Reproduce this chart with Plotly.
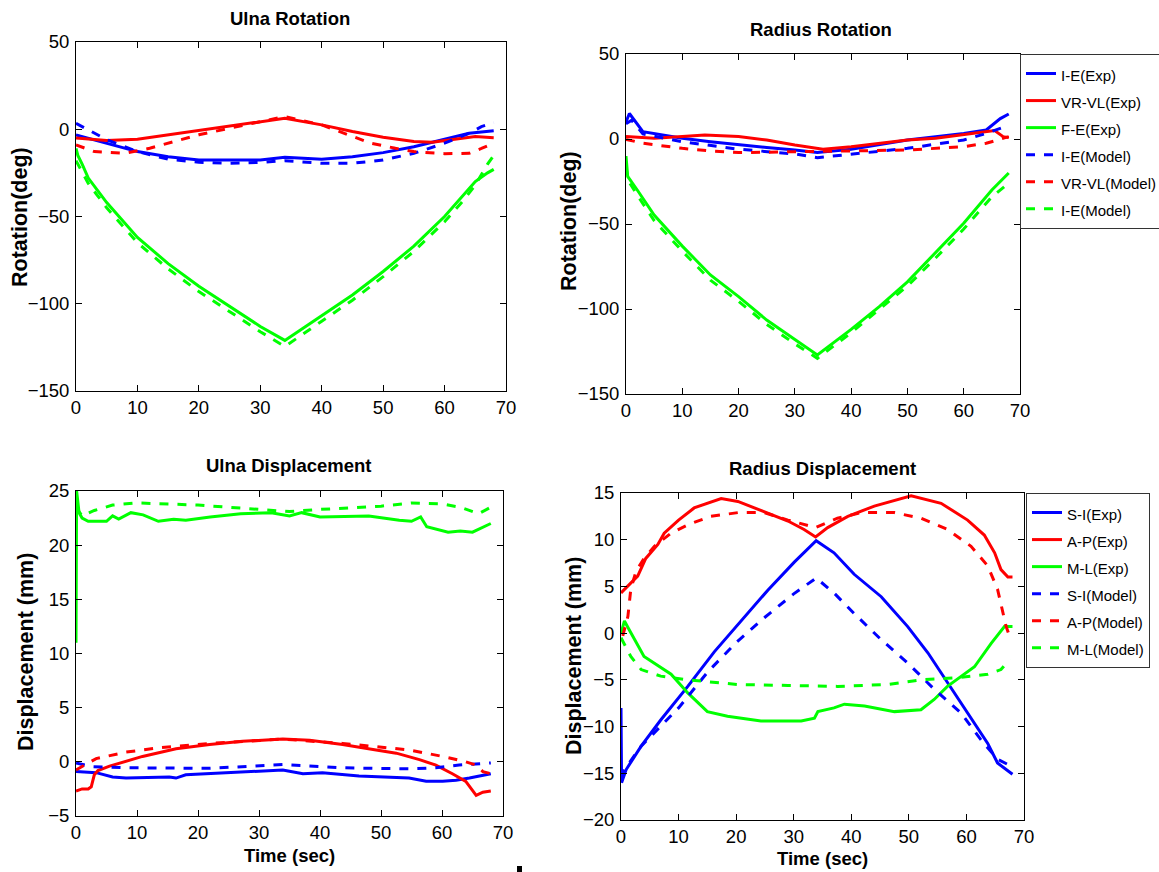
import plotly.graph_objects as go

W, H = 1159, 872

BLUE, RED, GREEN = "#0000ff", "#ff0000", "#00ff00"
FONT = "Liberation Sans, Arial, sans-serif"

# ---------------- Ulna Rotation (deg) ----------------
ur_ie_exp_t = [0, 5, 10, 15, 20, 30, 34, 40, 45, 50, 55, 60, 64, 68]
ur_ie_exp_y = [-3.2, -8, -12.8, -15.7, -17.6, -17.6, -16, -17.2, -15.7, -13.4, -10, -5.7, -2.3, -0.8]
ur_vr_exp_t = [0, 5, 10, 15, 20, 25, 30, 34, 40, 45, 50, 55, 58, 62, 65, 68]
ur_vr_exp_y = [-5, -6.5, -5.7, -3.2, -0.8, 1.9, 4.4, 6.3, 2.5, -1.3, -4.6, -7, -7.4, -5.7, -4.2, -4.8]
ur_fe_exp_t = [0, 0.3, 1, 2, 3.5, 5, 7, 10, 13, 15, 20, 25, 30, 34, 37, 40, 45, 50, 55, 60, 63, 65, 67, 68]
ur_fe_exp_y = [-11, -15, -20, -28, -35, -42, -50, -62, -71, -77, -90, -101.5, -113, -121, -114, -107, -95, -81.5, -67, -50, -38, -30, -25, -23]
ur_ie_mod_t = [0, 2, 5, 10, 15, 20, 25, 30, 34, 40, 45, 50, 55, 60, 64, 66, 68]
ur_ie_mod_y = [3.4, -0.4, -6, -12.8, -17.2, -18.9, -19.5, -19, -18, -19.5, -19.5, -17.6, -13.8, -8, -2.3, 1.5, 3.8]
ur_vr_mod_t = [0, 3, 8, 12, 16, 20, 25, 30, 34, 40, 45, 48, 52, 55, 60, 64, 66, 68]
ur_vr_mod_y = [-9, -12.8, -13.8, -10.9, -7, -3.2, 0.6, 4.4, 7.3, 2.5, -4.2, -8, -10.9, -12.8, -14, -13.8, -11, -8]
ur_fe_mod_t = [0, 0.3, 1, 2, 3.5, 5, 7, 10, 13, 15, 20, 25, 30, 34, 37, 40, 45, 50, 55, 60, 63, 65, 67, 68]
ur_fe_mod_y = [-18, -20, -24, -31, -38, -45, -53, -65, -74, -80, -93, -104.5, -116, -124.5, -117, -110, -98, -84.5, -70, -53, -41, -32, -20, -15]

# ---------------- Radius Rotation (deg) ----------------
rr_ie_exp_t = [0, 0.6, 3, 5, 10, 15, 20, 25, 30, 34, 40, 45, 50, 55, 60, 64, 65, 66.5, 68]
rr_ie_exp_y = [10, 15, 4.3, 3.3, 0.4, -1.6, -3.5, -5, -6.5, -8, -6, -3.5, -0.6, 1.4, 3.3, 5.3, 8, 12, 14.7]
rr_vr_exp_t = [0, 5, 10, 14, 20, 25, 30, 35, 40, 45, 50, 55, 60, 64, 65.5, 67, 68]
rr_vr_exp_y = [1.4, 0.4, 1.4, 2.4, 1.4, -0.6, -3.5, -6, -4.5, -2.5, -0.6, 0.4, 2.4, 4.3, 5, 1.4, 0.8]
rr_fe_exp_t = [0, 0.3, 2, 5, 10, 15, 20, 25, 30, 34, 40, 45, 50, 55, 60, 65, 68]
rr_fe_exp_y = [-10, -22, -30, -44.7, -63, -80, -92.7, -106.5, -118, -127, -112, -98.6, -84, -67, -49.6, -30, -20]
rr_ie_mod_t = [0, 1, 3, 10, 20, 30, 34, 40, 50, 60, 64, 68]
rr_ie_mod_y = [9, 11, 3, -1.6, -6, -8.8, -11, -8.8, -5.5, -0.6, 3.3, 8]
rr_vr_mod_t = [0, 3, 10, 15, 20, 30, 40, 50, 60, 64, 66, 68]
rr_vr_mod_y = [-0.2, -2.5, -5.5, -7, -8, -7.5, -7, -6.5, -4.5, -2.5, -0.6, 1.4]
rr_fe_mod_t = [0, 0.3, 2, 5, 10, 15, 20, 25, 30, 34, 40, 45, 50, 55, 60, 65, 68]
rr_fe_mod_y = [-16, -24, -33, -48, -66, -83, -95.5, -109, -120.5, -129, -114, -100.5, -86.5, -70, -53, -34, -26]

# ---------------- Ulna Displacement (mm) ----------------
ud_fe_exp_t = [0, 0.1, 0.5, 1, 2, 5, 6, 7, 9, 11, 13.5, 16, 18, 22, 27, 32, 35, 37, 40, 48, 53, 55, 56.5, 57.5, 61, 63, 65, 67, 68]
ud_fe_exp_y = [11, 25, 23, 22.5, 22.2, 22.2, 22.7, 22.4, 23, 22.8, 22.2, 22.4, 22.3, 22.6, 22.9, 23, 22.7, 23, 22.6, 22.7, 22.3, 22.2, 22.6, 21.7, 21.2, 21.3, 21.2, 21.7, 22]
ud_fe_mod_t = [0, 1, 3, 6, 10, 20, 30, 35, 40, 50, 55, 60, 63, 66, 68]
ud_fe_mod_y = [23.5, 22.7, 23.2, 23.7, 23.9, 23.7, 23.3, 23.1, 23.3, 23.6, 23.9, 23.8, 23.5, 22.9, 23.5]
ud_si_exp_t = [0, 3.3, 6, 8.2, 15.3, 16.4, 18, 24.6, 33.9, 37.2, 40.4, 46.4, 54.6, 57.4, 60.1, 62.3, 64.5, 68]
ud_si_exp_y = [-0.9, -1, -1.4, -1.5, -1.4, -1.5, -1.2, -1.0, -0.75, -1.1, -1, -1.3, -1.5, -1.8, -1.8, -1.7, -1.5, -1.1]
ud_si_mod_t = [0, 2.7, 8.2, 21.9, 33.9, 43.7, 54.6, 59, 62.8, 68]
ud_si_mod_y = [-0.1, -0.45, -0.55, -0.6, -0.25, -0.55, -0.65, -0.55, -0.3, -0.1]
ud_ap_exp_t = [0, 1, 2, 2.5, 3, 3.6, 5.5, 10.9, 16.4, 21.9, 27.3, 33.9, 38.3, 43.7, 49.2, 52.5, 56.3, 59, 61.7, 63.9, 65.6, 66.7, 68]
ud_ap_exp_y = [-2.7, -2.5, -2.5, -2.3, -1.2, -0.8, -0.4, 0.5, 1.2, 1.6, 1.9, 2.1, 2.0, 1.6, 1.1, 0.8, 0.2, -0.3, -1.1, -1.8, -3.1, -2.8, -2.7]
ud_ap_mod_t = [0, 3.3, 8.2, 13.7, 21.9, 33.9, 43.7, 49.2, 54.6, 60.1, 63.9, 65.6, 66.7, 68]
ud_ap_mod_y = [-0.75, 0.3, 0.9, 1.3, 1.7, 2.1, 1.7, 1.4, 1.1, 0.5, 0, -0.3, -0.9, -1.1]

# ---------------- Radius Displacement (mm) ----------------
rd_si_exp_t = [0, 0.1, 0.9, 3.5, 6.9, 11.6, 16.2, 20.8, 25.5, 30.1, 33.9, 37, 40.5, 45.2, 49.8, 53.3, 56.7, 60.2, 63.7, 65.4, 68]
rd_si_exp_y = [-8, -16, -14.6, -12.1, -9.3, -5.7, -2, 1.3, 4.6, 7.6, 9.9, 8.6, 6.3, 3.9, 0.7, -2.1, -5.3, -8.5, -11.8, -13.9, -15.1]
rd_ap_exp_t = [0, 1.7, 2.9, 4.3, 6.4, 7.5, 10, 12.7, 17.4, 20.3, 24.9, 29, 31.8, 33.8, 35.9, 39.4, 44, 50.4, 55.6, 60.2, 63.1, 64.9, 66, 67.2, 68]
rd_ap_exp_y = [4.3, 5.4, 6.1, 8, 9.5, 10.7, 12.1, 13.4, 14.4, 14.1, 13, 12, 11.1, 10.3, 11.3, 12.5, 13.6, 14.7, 13.9, 12.1, 10.5, 8.6, 6.8, 6, 6]
rd_ml_exp_t = [0, 0.6, 1.4, 4, 8.7, 11.6, 15, 18.5, 24.3, 31.3, 33.6, 34.2, 37, 38.8, 42.3, 47.5, 52.1, 54.4, 56.7, 61.4, 64.3, 66.6, 68]
rd_ml_exp_y = [0, 1.3, 0.4, -2.5, -4.4, -6.4, -8.4, -8.9, -9.4, -9.4, -9.1, -8.4, -8, -7.6, -7.8, -8.4, -8.2, -7.1, -5.7, -3.6, -1.1, 0.7, 0.7]
rd_si_mod_t = [0, 0.6, 3.5, 10, 15, 20, 25, 30, 33.9, 37, 40.5, 45.2, 49.8, 54.4, 59, 62.5, 65.4, 68]
rd_si_mod_y = [-15.5, -14.6, -12.1, -8, -4.2, -1, 1.7, 4.2, 5.9, 4.3, 2.1, -0.7, -3.2, -6, -8.5, -11.4, -13.5, -14.3]
rd_ap_mod_t = [0.3, 1.2, 1.7, 2.6, 4, 5.8, 8.7, 11.6, 15.6, 20.3, 24.9, 29, 33.8, 37.6, 41.7, 47.5, 52.1, 56.7, 60.8, 63.7, 65.4, 66.3, 66.9, 67.3]
rd_ap_mod_y = [-0.3, 1.8, 4.7, 6.6, 8, 9.3, 10.7, 11.6, 12.5, 12.9, 12.9, 12.1, 11.3, 12.3, 12.9, 12.9, 12.3, 11.1, 9.3, 7.2, 4.7, 2.2, 0.7, 0]
rd_ml_mod_t = [0, 1.7, 3.5, 6.9, 11.6, 20.3, 29, 37.6, 46.3, 52.1, 57.9, 63.7, 66, 67.5]
rd_ml_mod_y = [-0.5, -2.5, -3.9, -4.6, -5, -5.5, -5.6, -5.7, -5.5, -5, -4.8, -4.4, -3.9, -2.8]

rot_names = ["I-E(Exp)", "VR-VL(Exp)", "F-E(Exp)", "I-E(Model)", "VR-VL(Model)", "I-E(Model)"]
disp_names = ["S-I(Exp)", "A-P(Exp)", "M-L(Exp)", "S-I(Model)", "A-P(Model)", "M-L(Model)"]


def px_x(p):
    return p / W


def px_y(p):
    return 1 - p / H


fig = go.Figure()


def add_panel(series, names, xa, ya, legend=None):
    colors = [BLUE, RED, GREEN, BLUE, RED, GREEN]
    for i, ((t, y), name) in enumerate(zip(series, names)):
        fig.add_trace(go.Scatter(
            x=t, y=y, mode="lines",
            # legend rows keep the taller spacing of the legend font, text drawn smaller
            name="<span style='font-size:15px'>%s</span>" % name,
            line=dict(color=colors[i], width=3, dash="solid" if i < 3 else "dash"),
            xaxis=xa, yaxis=ya,
            showlegend=legend is not None,
            legend=legend if legend else "legend",
        ))


add_panel([(ur_ie_exp_t, ur_ie_exp_y), (ur_vr_exp_t, ur_vr_exp_y), (ur_fe_exp_t, ur_fe_exp_y),
           (ur_ie_mod_t, ur_ie_mod_y), (ur_vr_mod_t, ur_vr_mod_y), (ur_fe_mod_t, ur_fe_mod_y)],
          rot_names, "x", "y")
add_panel([(rr_ie_exp_t, rr_ie_exp_y), (rr_vr_exp_t, rr_vr_exp_y), (rr_fe_exp_t, rr_fe_exp_y),
           (rr_ie_mod_t, rr_ie_mod_y), (rr_vr_mod_t, rr_vr_mod_y), (rr_fe_mod_t, rr_fe_mod_y)],
          rot_names, "x2", "y2", legend="legend")
add_panel([(ud_si_exp_t, ud_si_exp_y), (ud_ap_exp_t, ud_ap_exp_y), (ud_fe_exp_t, ud_fe_exp_y),
           (ud_si_mod_t, ud_si_mod_y), (ud_ap_mod_t, ud_ap_mod_y), (ud_fe_mod_t, ud_fe_mod_y)],
          disp_names, "x3", "y3")
add_panel([(rd_si_exp_t, rd_si_exp_y), (rd_ap_exp_t, rd_ap_exp_y), (rd_ml_exp_t, rd_ml_exp_y),
           (rd_si_mod_t, rd_si_mod_y), (rd_ap_mod_t, rd_ap_mod_y), (rd_ml_mod_t, rd_ml_mod_y)],
          disp_names, "x4", "y4", legend="legend2")

# panel boxes in pixels: (left, right, top, bottom)
boxes = {
    "1": (76, 506, 42, 391),
    "2": (626, 1020, 54, 394),
    "3": (76, 503, 491, 816),
    "4": (621, 1024, 493, 820),
}
yranges = {"1": [-150, 50], "2": [-150, 50], "3": [-5, 25], "4": [-20, 15]}
ydticks = {"1": 50, "2": 50, "3": 5, "4": 5}

tickfont = dict(family=FONT, size=18.5, color="#000")
axis_common = dict(showline=True, linecolor="#000", linewidth=1, mirror="allticks",
                   ticks="inside", ticklen=6, tickcolor="#000", showgrid=False,
                   zeroline=False, tickfont=tickfont)

layout_axes = {}
for k, (l, r, t, b) in boxes.items():
    sfx = "" if k == "1" else k
    layout_axes["xaxis" + sfx] = dict(
        domain=[px_x(l), px_x(r)], range=[0, 70], dtick=10, tick0=0,
        anchor="y" + sfx, **axis_common)
    layout_axes["yaxis" + sfx] = dict(
        domain=[px_y(b), px_y(t)], range=yranges[k], dtick=ydticks[k], tick0=0,
        anchor="x" + sfx, ticklabelstandoff=2, **axis_common)

fig.update_layout(**layout_axes)

legend_common = dict(bgcolor="#fff", bordercolor="#333", borderwidth=1,
                     font=dict(family=FONT, size=18.5, color="#000"),
                     xanchor="left", yanchor="top", itemwidth=30,
                     tracegroupgap=0)
fig.update_layout(
    legend=dict(x=px_x(1020), y=px_y(54), **legend_common),
    legend2=dict(x=px_x(1026), y=px_y(493), **legend_common),
)

titlefont = dict(family=FONT, size=18.5, color="#000", weight="bold")
vfont = dict(family=FONT, size=21.5, color="#000", weight="bold")
annos = [
    ("Ulna Rotation", 290, 18, 0, titlefont),
    ("Radius Rotation", 821, 30, 0, titlefont),
    ("Ulna Displacement", 289, 466, 0, titlefont),
    ("Radius Displacement", 822, 468, 0, titlefont),
    ("Rotation(deg)", 20, 217, -90, vfont),
    ("Rotation(deg)", 569, 221, -90, vfont),
    ("Displacement (mm)", 26, 652, -90, vfont),
    ("Displacement (mm)", 574, 656, -90, vfont),
    ("Time (sec)", 289, 855, 0, titlefont),
    ("Time (sec)", 822, 858, 0, titlefont),
]
fig.update_layout(annotations=[
    dict(text=txt, x=px_x(x), y=px_y(y), xref="paper", yref="paper",
         xanchor="center", yanchor="middle", showarrow=False, textangle=ang, font=f)
    for txt, x, y, ang, f in annos
])

# small stray mark below the lower panels
fig.add_shape(type="rect", xref="paper", yref="paper",
              x0=px_x(517), x1=px_x(522), y0=px_y(872), y1=px_y(866),
              fillcolor="#000", line=dict(width=0))

fig.update_layout(
    width=W, height=H, paper_bgcolor="#fff", plot_bgcolor="#fff",
    margin=dict(l=0, r=0, t=0, b=0, autoexpand=False),
)

fig.write_html("out.html")
